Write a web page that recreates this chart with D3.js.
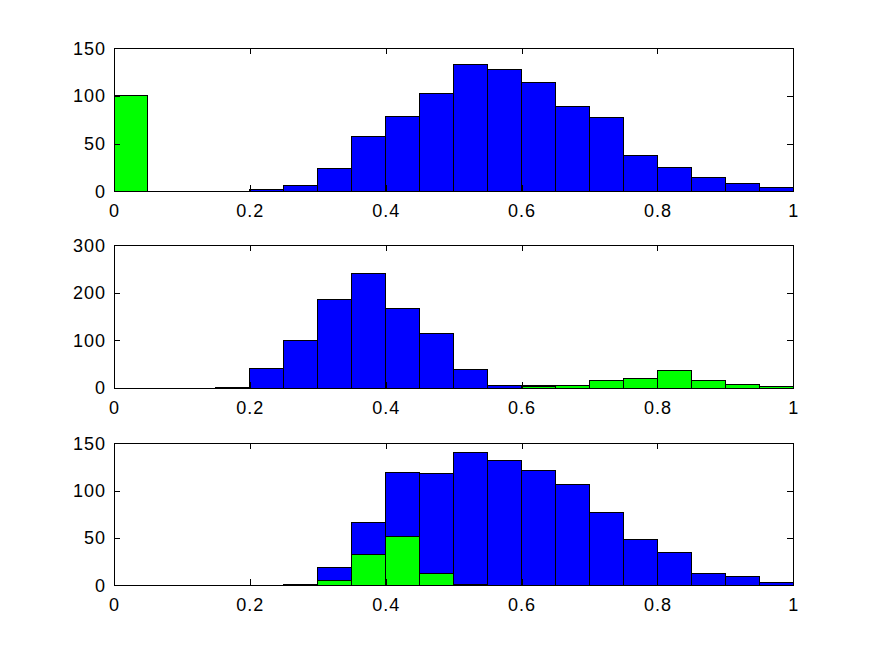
<!DOCTYPE html>
<html>
<head>
<meta charset="utf-8">
<script src="https://cdn.jsdelivr.net/npm/d3@7"></script>
<style>
  body { margin: 0; background: #fff; }
  svg { display: block; }
</style>
</head>
<body>
<div id="chart"></div>
<script>
// bin left edges, each bin is 0.05 wide
const binStarts = [0, 0.05, 0.1, 0.15, 0.2, 0.25, 0.3, 0.35, 0.4, 0.45,
                   0.5, 0.55, 0.6, 0.65, 0.7, 0.75, 0.8, 0.85, 0.9, 0.95];
const binWidth = 0.05;

// counts
const topBlue  = [1, 0, 0, 0, 2, 6, 24, 58, 78, 103, 133, 128, 114, 89, 77, 38, 25, 14, 8, 4];
const topGreen = [100, 0, 0, 0, 0, 0, 0, 0, 0, 0, 0, 0, 0, 0, 0, 0, 0, 0, 0, 0];
const midBlue  = [0, 0, 0, 2, 40, 100, 187, 241, 168, 115, 38, 6, 5, 1, 0, 0, 0, 0, 0, 1];
const midGreen = [0, 0, 0, 0, 0, 0, 0, 0, 0, 0, 0, 0, 3, 6, 15, 19, 36, 15, 8, 4];
const botBlue  = [0, 0, 0, 0, 0, 1, 19, 66, 119, 118, 140, 132, 121, 106, 77, 48, 35, 12, 9, 3];
const botGreen = [0, 0, 0, 0, 0, 0, 5, 33, 52, 12, 1, 0, 0, 0, 0, 0, 0, 0, 0, 0];

const xTicks = [0, 0.2, 0.4, 0.6, 0.8, 1];
const yTicks150 = [0, 50, 100, 150];
const yTicks300 = [0, 100, 200, 300];

const width = 876;
const height = 657;
const left = 114, right = 793.3;
const tickLen = 6;

const panels = [
  { top: 48.3, bottom: 191.3, ymax: 150, yticks: yTicks150, blue: topBlue, green: topGreen },
  { top: 245.3, bottom: 388, ymax: 300, yticks: yTicks300, blue: midBlue, green: midGreen },
  { top: 443.3, bottom: 585.3, ymax: 150, yticks: yTicks150, blue: botBlue, green: botGreen },
];

const svg = d3.select("#chart")
  .append("svg")
  .attr("width", width)
  .attr("height", height)
  .attr("viewBox", [0, 0, width, height]);

const x = d3.scaleLinear().domain([0, 1]).range([left, right]);
const fmt = (d) => String(d);

for (const p of panels) {
  const y = d3.scaleLinear().domain([0, p.ymax]).range([p.bottom, p.top]);
  const g = svg.append("g");

  // blue first, green drawn on top (as in the original)
  for (const [vals, color] of [[p.blue, "#0000ff"], [p.green, "#00ff00"]]) {
    g.append("g")
      .selectAll("rect")
      .data(binStarts.map((b, i) => ({ x0: b, x1: b + binWidth, v: vals[i] })))
      .join("rect")
      .attr("x", (d) => x(d.x0))
      .attr("width", (d) => x(d.x1) - x(d.x0))
      .attr("y", (d) => y(d.v))
      .attr("height", (d) => y(0) - y(d.v))
      .attr("fill", color)
      .attr("stroke", "#000")
      .attr("stroke-width", 1)
      .attr("shape-rendering", "crispEdges");
  }

  // axes, ticks pointing inward on all four sides
  const xb = g.append("g")
    .attr("transform", `translate(0,${p.bottom})`)
    .call(d3.axisBottom(x).tickValues(xTicks).tickFormat(fmt)
      .tickSizeInner(-tickLen).tickSizeOuter(0).tickPadding(13));
  const xt = g.append("g")
    .attr("transform", `translate(0,${p.top})`)
    .call(d3.axisTop(x).tickValues(xTicks).tickFormat("")
      .tickSizeInner(-tickLen).tickSizeOuter(0));
  const yl = g.append("g")
    .attr("transform", `translate(${left},0)`)
    .call(d3.axisLeft(y).tickValues(p.yticks).tickFormat(fmt)
      .tickSizeInner(-tickLen).tickSizeOuter(0).tickPadding(8));
  const yr = g.append("g")
    .attr("transform", `translate(${right},0)`)
    .call(d3.axisRight(y).tickValues(p.yticks).tickFormat("")
      .tickSizeInner(-tickLen).tickSizeOuter(0));

  for (const a of [xb, xt, yl, yr]) {
    a.select(".domain").remove();
    a.selectAll("line").attr("stroke", "#000").attr("shape-rendering", "crispEdges");
    a.selectAll("text")
      .attr("fill", "#000")
      .style("font-family", "'Liberation Sans', Arial, sans-serif")
      .style("font-size", "18px")
      .style("letter-spacing", "1px");
  }

  g.append("rect")
    .attr("x", left)
    .attr("y", p.top)
    .attr("width", right - left)
    .attr("height", p.bottom - p.top)
    .attr("fill", "none")
    .attr("stroke", "#000")
    .attr("shape-rendering", "crispEdges");
}
</script>
</body>
</html>
